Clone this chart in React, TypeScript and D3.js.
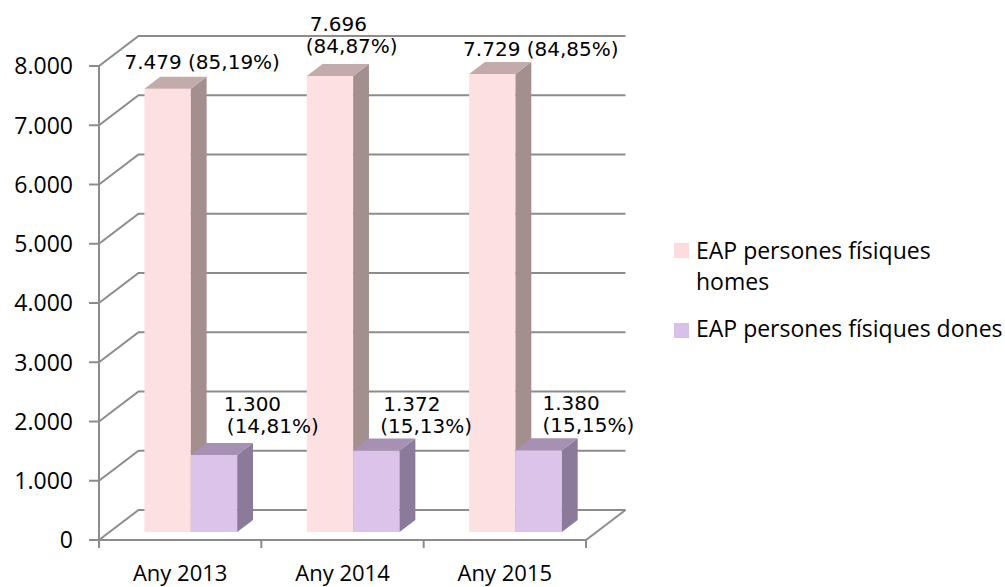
import React from 'react';
import * as d3 from 'd3';

const categories = ['Any 2013', 'Any 2014', 'Any 2015'];
const seriesNames = ['EAP persones físiques homes', 'EAP persones físiques dones'];
const homes = [7479, 7696, 7729];
const dones = [1300, 1372, 1380];
const yTicks = [0, 1000, 2000, 3000, 4000, 5000, 6000, 7000, 8000];

// label placement relative to the bar's top front-left corner: [dx, dy] per line
const homesLabelPos = [[[-20, -20]], [[3, -45], [-1, -23]], [[-6, -18]]];
const donesLabelPos = [[[33, -44], [36, -22]], [[30, -40], [27, -18]], [[27, -40], [27, -18]]];

const W = 1005;
const H = 587;
const DX = 39.5; // depth offset
const DY = 30;
const F0 = 0.27; // bar front depth
const F1 = 0.67; // bar back depth

const colors = [
  { front: '#fde0e1', side: '#a48f8f', top: '#c4abab', legend: '#fcdcdd' },
  { front: '#dbc3ea', side: '#8b7a99', top: '#a691b5', legend: '#d8c0e8' },
];
const gridColor = '#8c8c8c';

const fmt = (v: number) => d3.format(',')(v).replace(/,/g, '.');
const pct = (v: number, tot: number) => '(' + (v / tot * 100).toFixed(2).replace('.', ',') + '%)';

const App = () => {
  const x = d3.scaleBand().domain(categories).range([99, 586]).padding(0);
  const xs = d3.scaleBand().domain(['0', '1']).range([0, x.bandwidth()]).paddingInner(0).paddingOuter(0.75);
  const y = d3.scaleLinear().domain([0, 8000]).range([540, 66]);
  const bw = xs.bandwidth();

  const p = (px: number, v: number, f: number) => `${px + f * DX},${y(v) - f * DY}`;

  const bars: any[] = [];
  const labels: any[] = [];
  [homes, dones].forEach((vals, s) => {
    vals.forEach((v, i) => {
      const x0 = (x(categories[i]) as number) + (xs(String(s)) as number);
      const x1 = x0 + bw;
      const c = colors[s];
      bars.push(
        <g key={`b${s}-${i}`}>
          <polygon points={[p(x0, 0, F0), p(x1, 0, F0), p(x1, v, F0), p(x0, v, F0)].join(' ')} fill={c.front} />
          <polygon points={[p(x1, 0, F0), p(x1, 0, F1), p(x1, v, F1), p(x1, v, F0)].join(' ')} fill={c.side} />
          <polygon points={[p(x0, v, F0), p(x1, v, F0), p(x1, v, F1), p(x0, v, F1)].join(' ')} fill={c.top} />
        </g>
      );
      const tot = homes[i] + dones[i];
      const pos = s === 0 ? homesLabelPos[i] : donesLabelPos[i];
      const lines = pos.length === 1 ? [fmt(v) + ' ' + pct(v, tot)] : [fmt(v), pct(v, tot)];
      const bx = x0 + F0 * DX;
      const by = y(v) - F0 * DY;
      lines.forEach((t, k) => {
        labels.push(
          <text key={`l${s}-${i}-${k}`} x={bx + pos[k][0]} y={by + pos[k][1]}
            fontFamily="DejaVu Sans" fontSize={20} fill="#000">{t}</text>
        );
      });
    });
  });

  const x0 = 99;
  const x1 = 586;

  return (
    <svg width={W} height={H} style={{ position: 'absolute', left: 0, top: 0, background: '#fff' }}>
      {/* walls and floor */}
      {yTicks.map((t) => (
        <path key={`g${t}`} d={`M${x0},${y(t)}L${x0 + DX},${y(t) - DY}L${x1 + DX},${y(t) - DY}`}
          fill="none" stroke={gridColor} strokeWidth={2} />
      ))}
      <path d={`M${x1 + DX},${y(0) - DY}L${x1},${y(0)}`} stroke={gridColor} strokeWidth={2} fill="none" />
      <line x1={x0} x2={x1} y1={y(0)} y2={y(0)} stroke={gridColor} strokeWidth={2} />
      <line x1={x0} x2={x0} y1={y(8000)} y2={y(0) + 7} stroke={gridColor} strokeWidth={2} />
      {yTicks.map((t) => (
        <g key={`yt${t}`}>
          <line x1={x0 - 10} x2={x0} y1={y(t)} y2={y(t)} stroke={gridColor} strokeWidth={2} />
          <text x={73} y={y(t)} dy="0.36em" textAnchor="end" fontFamily="Open Sans" fontSize={23} fill="#000">
            {t === 0 ? '0' : fmt(t)}
          </text>
        </g>
      ))}
      {[...categories.map((c) => x(c) as number), x1].map((tx, i) => (
        <line key={`xt${i}`} x1={tx} x2={tx} y1={y(0)} y2={y(0) + 8} stroke={gridColor} strokeWidth={2} />
      ))}
      {categories.map((c) => (
        <text key={c} x={(x(c) as number) + x.bandwidth() / 2} y={581} textAnchor="middle"
          fontFamily="Open Sans" fontSize={22} fill="#000">{c}</text>
      ))}
      {bars}
      {labels}
      {/* legend */}
      <rect x={674} y={243} width={15} height={15} fill={colors[0].legend} />
      <text x={696} y={259} fontFamily="Open Sans" fontSize={23} fill="#000">EAP persones físiques</text>
      <text x={696} y={290} fontFamily="Open Sans" fontSize={23} fill="#000">homes</text>
      <rect x={674} y={323} width={15} height={15} fill={colors[1].legend} />
      <text x={696} y={337} fontFamily="Open Sans" fontSize={23} fill="#000">{seriesNames[1]}</text>
    </svg>
  );
};

export default App;
